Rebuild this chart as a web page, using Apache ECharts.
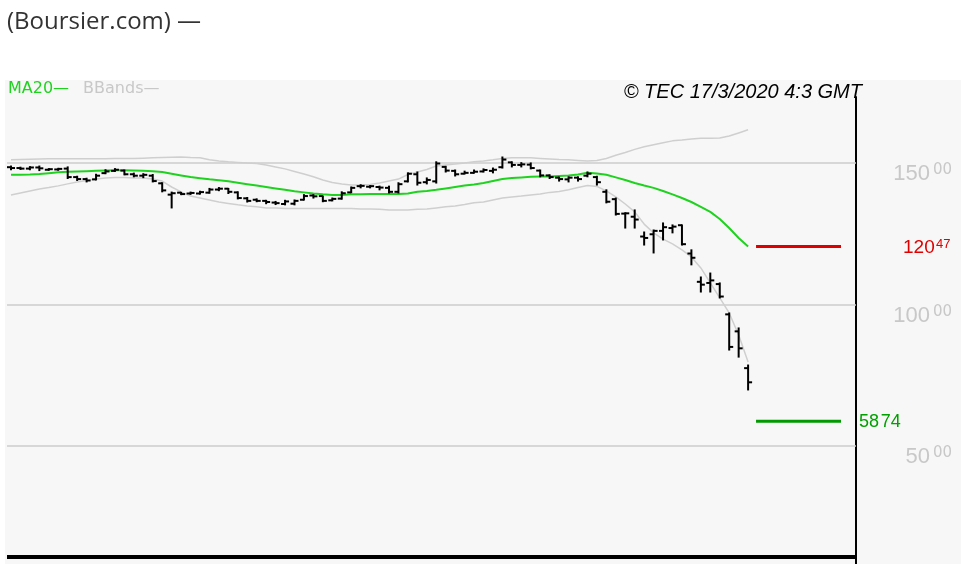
<!DOCTYPE html>
<html><head><meta charset="utf-8">
<script src="https://cdn.jsdelivr.net/npm/echarts@6/dist/echarts.min.js"></script>
<style>
html,body{margin:0;padding:0;background:#fff;}
#panel{position:absolute;left:5px;top:80px;width:956px;height:484px;background:#f7f7f7;}
#chart{position:absolute;left:0;top:0;width:961px;height:564px;}
</style></head><body>
<div id="panel"></div><div id="chart"></div>
<script>
// ---- data (daily OHLC, oldest -> newest, last = 17/3/2020) ----
const opens = [
 148.5,148.2,148.0,148.4,147.6,147.7,148.0,145.0,144.3,144.2,
 146.4,147.2,147.3,146.0,145.5,145.5,142.8,138.8,139.5,139.2,
 139.2,139.5,140.6,140.9,139.6,137.5,137.0,136.6,136.0,135.5,
 135.6,137.0,138.5,138.3,136.8,137.4,139.6,141.8,141.6,141.5,
 141.2,139.8,143.5,146.0,143.2,143.5,148.6,147.2,146.2,146.5,
 147.0,147.2,148.5,150.2,149.3,149.4,147.3,145.6,144.8,144.2,
 144.8,145.5,145.0,139.8,137.2,132.1,131.0,124.0,124.8,126.0,
 127.0,128.0,118.0,108.0,107.6,107.2,96.5,90.5,77.5];
const closes = [
 148.2,148.0,148.4,148.1,147.8,147.9,145.0,144.3,143.8,145.5,
 147.0,147.6,146.0,145.5,145.8,143.6,140.3,139.3,139.0,139.4,
 139.7,140.6,140.9,139.8,137.6,136.6,136.6,136.2,135.8,136.4,
 136.6,138.3,138.2,136.6,137.3,139.3,141.2,141.9,141.8,141.3,
 139.8,142.5,146.2,143.0,144.0,149.8,147.3,146.0,146.5,146.9,
 147.5,147.6,151.2,149.3,149.5,148.2,145.6,145.0,144.3,144.8,
 144.3,146.2,143.2,136.3,132.0,132.2,130.0,123.5,126.0,127.3,
 127.5,121.3,116.5,107.0,108.5,102.8,85.0,84.5,72.5];
const lows = [
 147.6,147.7,147.6,147.3,147.4,147.4,144.5,143.8,143.3,144.0,
 146.2,147.0,145.8,145.1,144.8,143.3,139.8,134.1,138.8,138.9,
 139.0,139.3,140.2,139.2,137.3,136.2,136.3,135.6,135.3,135.2,
 135.2,136.9,137.6,136.3,136.6,137.2,139.5,141.2,141.2,140.5,
 139.4,139.4,143.3,142.2,142.6,142.9,146.8,145.4,146.1,146.4,
 146.8,146.5,148.2,148.6,148.6,147.9,145.1,144.5,143.6,143.3,
 143.6,145.1,142.2,135.9,131.6,127.0,127.0,121.0,118.2,122.8,
 125.3,121.0,114.0,104.4,104.4,102.3,83.9,81.4,69.8];
const highs = [
 148.9,148.5,148.7,148.9,148.0,148.1,148.6,145.3,144.6,146.0,
 147.6,148.0,147.5,146.4,146.2,145.9,143.0,139.7,139.6,139.7,
 140.0,141.0,141.3,141.0,139.8,137.8,137.3,136.8,136.4,136.8,
 136.9,138.8,138.8,138.3,137.6,139.8,141.5,142.3,142.0,141.8,
 141.8,143.0,146.5,146.8,144.7,150.4,148.8,147.5,147.1,147.5,
 147.9,148.2,152.1,150.4,150.1,150.0,147.5,145.8,145.0,145.1,
 145.1,146.8,145.3,140.5,137.6,132.4,133.4,125.6,126.3,128.8,
 128.1,128.1,119.3,109.7,111.1,107.6,97.0,91.7,78.6];
const ma20 = [
 145.8,145.8,145.9,146.1,146.4,146.7,146.9,147.0,147.1,147.2,
 147.3,147.4,147.4,147.3,147.2,147.1,146.8,146.2,145.6,145.0,
 144.6,144.2,143.9,143.5,143.0,142.5,142.0,141.5,141.0,140.5,
 140.0,139.6,139.2,138.9,138.7,138.7,138.9,138.9,139.0,139.0,
 139.0,139.0,139.2,139.8,140.1,140.5,141.0,141.5,142.0,142.4,
 142.9,143.6,144.3,144.7,144.9,145.1,145.2,145.2,145.4,145.6,
 145.9,146.5,146.3,145.8,144.9,144.0,142.9,142.0,141.2,140.1,
 138.9,137.6,136.2,134.5,132.7,130.2,127.0,123.5,120.5];
const bbUpper = [
 151.1,151.2,151.3,151.4,151.5,151.5,151.5,151.5,151.5,151.5,
 151.5,151.6,151.6,151.6,151.7,151.8,151.9,152.0,152.1,151.9,
 151.8,151.1,150.7,150.4,150.2,150.0,149.8,149.3,148.6,147.9,
 147.0,146.1,145.1,144.0,143.1,142.6,142.2,142.2,142.4,142.9,
 143.6,144.3,145.9,146.8,147.7,148.9,149.3,149.6,150.0,150.4,
 150.7,151.1,151.6,151.8,151.8,151.8,151.6,151.4,151.2,151.1,
 150.9,150.7,150.9,151.6,152.7,153.7,154.8,155.7,156.4,157.1,
 157.8,158.1,158.5,158.7,158.7,158.8,159.5,160.6,161.7];
const bbLower = [
 138.7,139.4,140.1,140.8,141.3,141.9,142.6,143.3,143.8,144.3,
 144.7,144.9,144.9,144.7,144.7,144.3,143.6,141.5,139.8,138.3,
 137.6,136.9,136.2,135.7,135.2,134.8,134.5,134.1,134.1,133.9,
 133.9,133.9,133.9,133.9,133.9,133.9,133.9,133.7,133.7,133.6,
 133.4,133.4,133.4,133.6,133.7,134.1,134.5,134.8,135.3,135.9,
 136.2,136.9,137.6,138.0,138.3,138.7,139.0,139.6,139.9,140.5,
 141.3,142.0,141.7,140.1,138.0,135.5,132.7,128.4,125.3,123.1,
 121.4,119.3,116.8,112.9,107.6,102.3,97.0,89.2,79.7];
const yTicks = [50, 100, 150];
const resistance = 120.47;
const support = 58.74;

// ---- layout constants ----
const X_MIN = -0.423, X_MAX = 89.418;
const Y_MIN = 8.3, Y_MAX = 173.3;
const LEVEL_FROM = 78.84, LEVEL_TO = 87.83;
const BASE_LINE = 10.8;
const NUM_FONT = 'Liberation Sans';

const ohlc = opens.map((o, i) => [i, o, closes[i], lows[i], highs[i]]);
const asPts = arr => arr.map((v, i) => [i, v]);
const splitNum = v => v.toFixed(2).split('.');

function renderOhlc(params, api) {
  const x = api.value(0);
  const o = api.coord([x, api.value(1)]);
  const c = api.coord([x, api.value(2)]);
  const l = api.coord([x, api.value(3)]);
  const h = api.coord([x, api.value(4)]);
  const st = { stroke: '#000', lineWidth: 2 };
  return { type: 'group', children: [
    { type: 'line', shape: { x1: h[0], y1: h[1] - 0.5, x2: l[0], y2: l[1] + 0.5 }, style: st },
    { type: 'line', shape: { x1: o[0] - 4, y1: o[1], x2: o[0], y2: o[1] }, style: st },
    { type: 'line', shape: { x1: c[0], y1: c[1], x2: c[0] + 4, y2: c[1] }, style: st }
  ]};
}

const legendText = color => ({ color: color, fontFamily: 'DejaVu Sans', fontSize: 16 });

const chart = echarts.init(document.getElementById('chart'), null, { renderer: 'canvas' });
const option = {
  animation: false,
  backgroundColor: 'transparent',
  title: [
    { text: '(Boursier.com) \u2014', left: 2, top: 5,
      textStyle: { fontFamily: 'Open Sans', fontSize: 24, fontWeight: 'normal', color: '#333' } },
    { text: '\u00a9 TEC 17/3/2020 4:3 GMT', right: 94, top: 77,
      textStyle: { fontFamily: 'Liberation Sans', fontStyle: 'italic', fontSize: 20, fontWeight: 'normal', color: '#000' } }
  ],
  legend: {
    left: 3, top: 81, padding: 0, icon: 'none', itemWidth: 0, itemHeight: 0, itemGap: 9, selectedMode: false,
    data: [
      { name: 'MA20', textStyle: legendText('#1fd21f') },
      { name: 'BBands', textStyle: legendText('#c8c8c8') }
    ],
    formatter: n => n + '\u2014',
    textStyle: legendText('#333')
  },
  grid: { left: 7, right: 105, top: 97, bottom: 0 },
  xAxis: { type: 'value', min: X_MIN, max: X_MAX, show: false },
  yAxis: {
    type: 'value', position: 'right', min: Y_MIN, max: Y_MAX,
    splitLine: { show: false }, axisTick: { show: false },
    axisLine: { show: true, onZero: false, lineStyle: { color: '#000', width: 2 } },
    axisLabel: {
      customValues: yTicks,
      margin: 96, align: 'right', verticalAlign: 'top',
      formatter: v => '{a|' + v + '}{b|00}',
      rich: {
        a: { fontFamily: NUM_FONT, fontSize: 22, lineHeight: 22, color: '#c8c8c8', padding: [0, 3, 0, 0] },
        b: { fontFamily: 'DejaVu Sans', fontSize: 15, lineHeight: 15, color: '#c8c8c8', padding: [0, 0, 7, 0] }
      }
    }
  },
  series: [
    { type: 'line', name: 'BBands', data: asPts(bbUpper), symbol: 'none', z: 2,
      lineStyle: { color: '#cfcfcf', width: 1.5 }, itemStyle: { color: '#c8c8c8' } },
    { type: 'line', name: 'BBands', data: asPts(bbLower), symbol: 'none', z: 2,
      lineStyle: { color: '#cfcfcf', width: 1.5 }, itemStyle: { color: '#c8c8c8' },
      markLine: {
        silent: true, symbol: 'none', z: 1, label: { show: false },
        lineStyle: { color: '#cccccc', width: 1.5, type: 'solid' },
        data: yTicks.map(v => ({ yAxis: v })).concat([
          { yAxis: BASE_LINE, lineStyle: { color: '#000', width: 4, type: 'solid' } }
        ])
      } },
    { type: 'line', name: 'MA20', data: asPts(ma20), symbol: 'none', z: 3,
      lineStyle: { color: '#1fd21f', width: 2 }, itemStyle: { color: '#1fd21f' } },
    { type: 'custom', name: 'TEC', z: 5, renderItem: renderOhlc, data: ohlc,
      encode: { x: 0, y: [1, 2, 3, 4] } },
    { type: 'line', name: 'R', data: [[LEVEL_FROM, resistance], [LEVEL_TO, resistance]], symbol: 'none', z: 4,
      lineStyle: { color: '#dd0000', width: 3 }, itemStyle: { color: '#dd0000' },
      endLabel: { show: true, offset: [54, 1],
        formatter: () => { const s = splitNum(resistance); return '{a|' + s[0] + '}{s| }{b|' + s[1] + '}'; },
        rich: {
          a: { fontFamily: NUM_FONT, fontSize: 19, color: '#e00000' },
          s: { fontSize: 5 },
          b: { fontFamily: NUM_FONT, fontSize: 13, color: '#e00000', verticalAlign: 'top' }
        } } },
    { type: 'line', name: 'S', data: [[LEVEL_FROM, support], [LEVEL_TO, support]], symbol: 'none', z: 4,
      lineStyle: { color: '#009900', width: 3 }, itemStyle: { color: '#009900' },
      endLabel: { show: true, offset: [10, 1],
        formatter: () => { const s = splitNum(support); return '{a|' + s[0] + '}{s| }{a|' + s[1] + '}'; },
        rich: {
          a: { fontFamily: NUM_FONT, fontSize: 18, color: '#00a000' },
          s: { fontSize: 6 }
        } } }
  ]
};
chart.setOption(option);
</script>
</body></html>
